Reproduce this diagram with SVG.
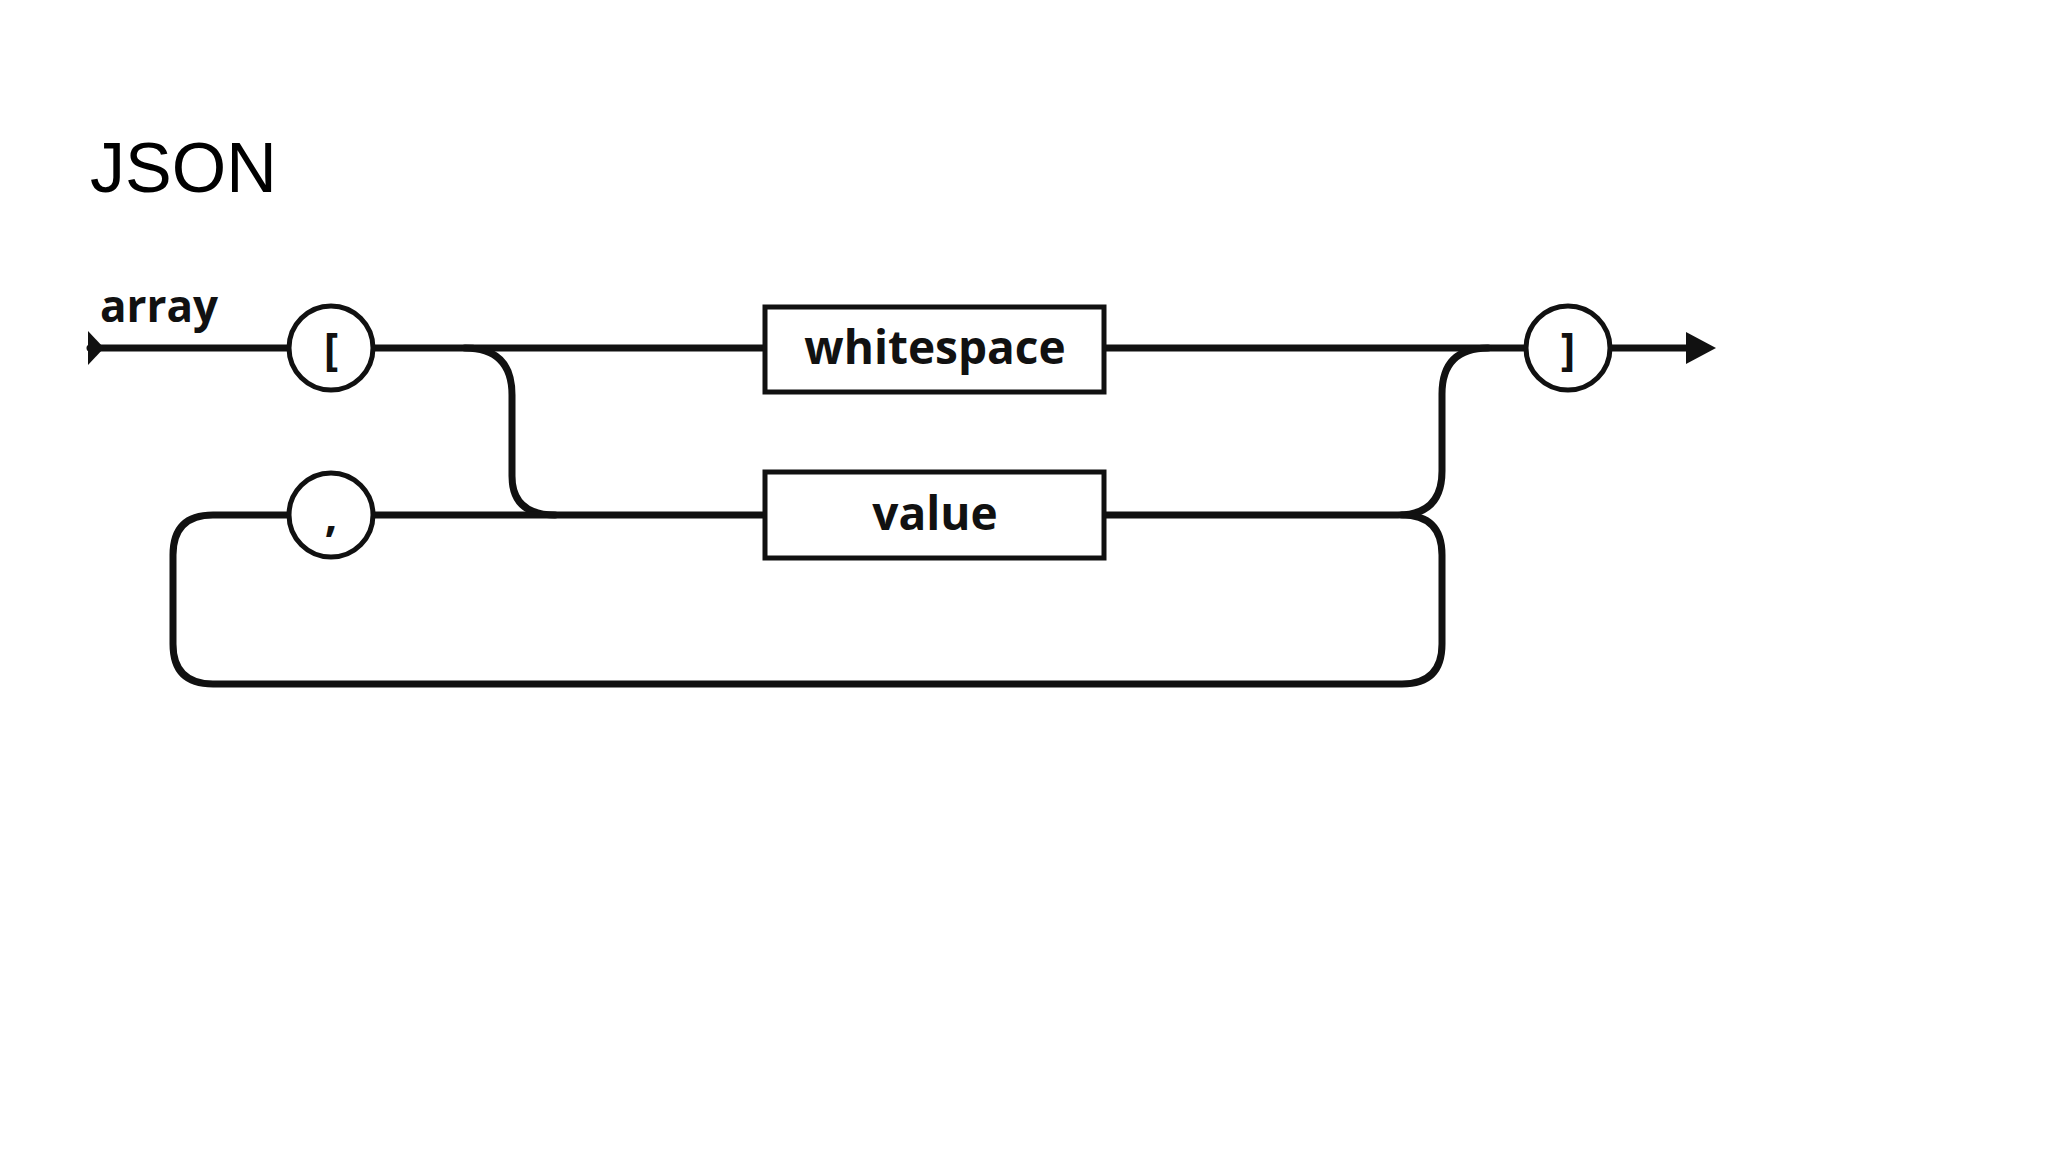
<svg xmlns="http://www.w3.org/2000/svg" width="2048" height="1152" viewBox="0 0 2048 1152">
<style>
.l{fill:none;stroke:#111;stroke-width:7;stroke-linecap:round}
.n{fill:#fff;stroke:#111;stroke-width:5}
.t{font-family:"Open Sans","DejaVu Sans",sans-serif;font-weight:bold;fill:#111;text-anchor:middle}
</style>
<rect width="2048" height="1152" fill="#fff"/>
<text x="90" y="192" font-family="Liberation Sans,Arial,sans-serif" font-size="70" fill="#000">JSON</text>
<text x="100" y="322" class="t" style="text-anchor:start" font-size="44">array</text>
<g id="connectors">
<path d="M90 348H289" class="l"/>
<path d="M88 331L104 348L88 365z" fill="#111"/>
<path d="M373 348H765M1104 348H1526M1610 348H1688" class="l"/>
<path d="M1686 332L1716 348L1686 364z" fill="#111"/>
<path d="M465 348Q512 348 512 395V476Q512 515 555 515" class="l"/>
<path d="M373 515H765M1104 515H1398Q1442 515 1442 471V394Q1442 348 1488 348" class="l"/>
<path d="M289 515H213Q173 515 173 555V644Q173 684 213 684H1402Q1442 684 1442 644V555Q1442 515 1402 515" class="l"/>
</g>
<g id="open"><circle cx="331" cy="348" r="42" class="n"/><text x="331" y="365" class="t" font-size="44" font-weight="normal">[</text></g>
<g id="comma"><circle cx="331" cy="515" r="42" class="n"/><text x="331" y="531" class="t" font-size="44">,</text></g>
<g id="close"><circle cx="1568" cy="348" r="42" class="n"/><text x="1568" y="365" class="t" font-size="44" font-weight="normal">]</text></g>
<g id="whitespace"><rect x="765" y="307" width="339" height="85" class="n"/><text x="935" y="364" class="t" font-size="46">whitespace</text></g>
<g id="value"><rect x="765" y="472" width="339" height="86" class="n"/><text x="935" y="530" class="t" font-size="46">value</text></g>
</svg>
